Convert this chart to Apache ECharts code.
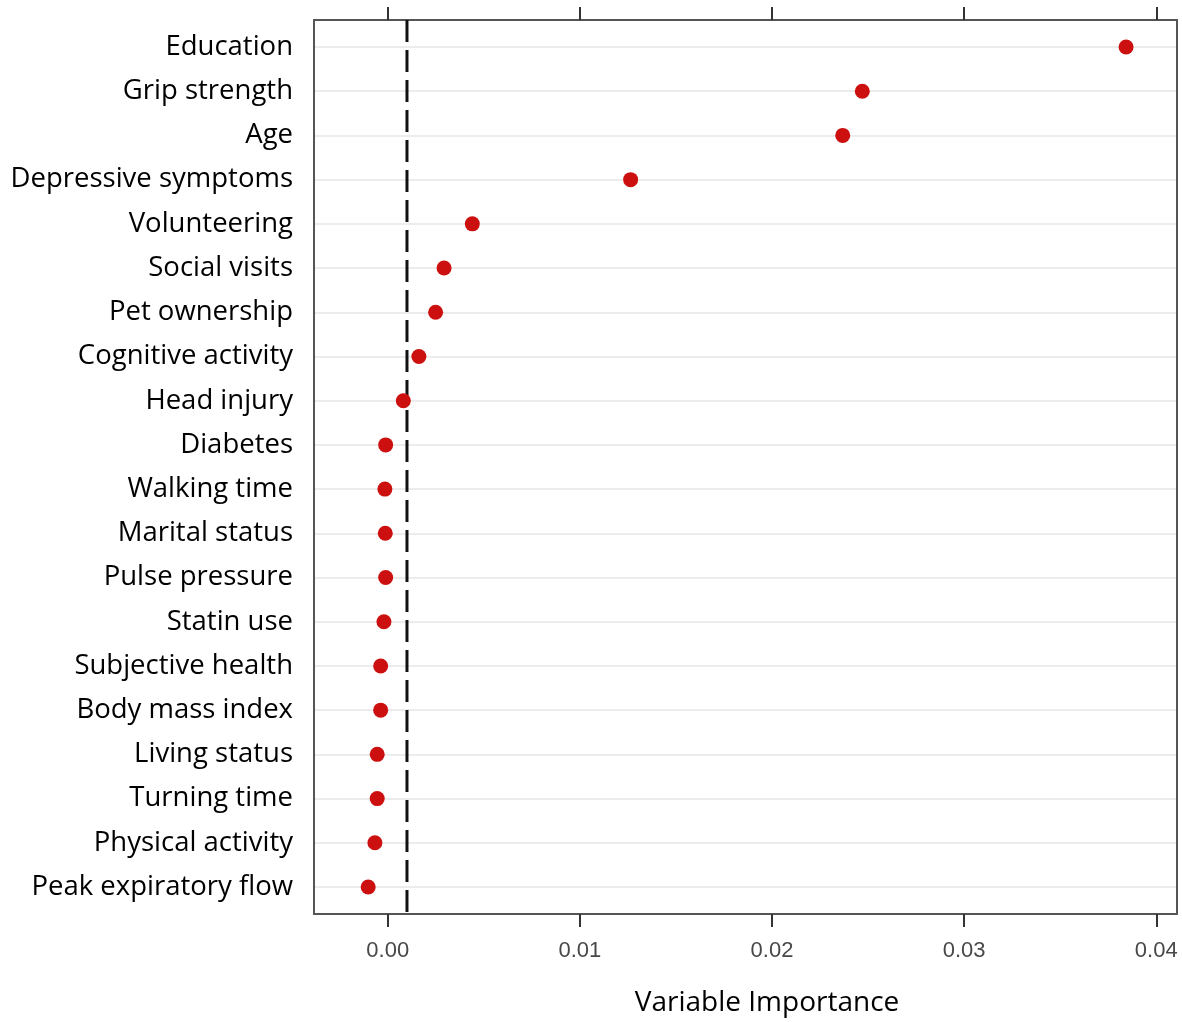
<!DOCTYPE html>
<html>
<head>
<meta charset="utf-8">
<title>Variable Importance</title>
<script src="https://cdn.jsdelivr.net/npm/echarts@6/dist/echarts.min.js"></script>
<style>
  html, body { margin: 0; padding: 0; background: #fff; }
  #chart { width: 1182px; height: 1022px; }
</style>
</head>
<body>
<div id="chart"></div>
<script>
// Predictors, ordered from most to least important
const variables = [
  'Education', 'Grip strength', 'Age', 'Depressive symptoms', 'Volunteering',
  'Social visits', 'Pet ownership', 'Cognitive activity', 'Head injury', 'Diabetes',
  'Walking time', 'Marital status', 'Pulse pressure', 'Statin use', 'Subjective health',
  'Body mass index', 'Living status', 'Turning time', 'Physical activity', 'Peak expiratory flow'
];

// Permutation importance for each predictor
const importance = [
  0.03843, 0.02470, 0.02368, 0.01264, 0.00440,
  0.00293, 0.00249, 0.00162, 0.00081, -0.00011,
  -0.00015, -0.00013, -0.00011, -0.00020, -0.00037,
  -0.00037, -0.00055, -0.00055, -0.00067, -0.00102
];

// Tick values on the importance axis
const xTicks = [0.00, 0.01, 0.02, 0.03, 0.04];

// Reference threshold drawn as a dashed vertical line
const threshold = 0.001;

const xMin = -0.00384;
const xMax = 0.04108;

const chart = echarts.init(document.getElementById('chart'), null, { renderer: 'canvas' });

const tickFmt = v => v.toFixed(2);
const frameLine = { show: true, onZero: false, lineStyle: { color: '#555', width: 2 } };

const option = {
  backgroundColor: '#ffffff',
  animation: false,
  grid: [
    // rows: one line per predictor
    { left: 314, right: 5, top: 47, bottom: 135 },
    // frame around the panel
    { left: 314, right: 5, top: 20, bottom: 108 }
  ],
  xAxis: [
    { gridIndex: 0, type: 'value', min: xMin, max: xMax, show: false },
    {
      gridIndex: 1, type: 'value', min: xMin, max: xMax, position: 'bottom',
      axisLine: frameLine,
      axisTick: { show: true, inside: false, length: 13, customValues: xTicks,
                  lineStyle: { color: '#333', width: 2 } },
      axisLabel: { show: true, customValues: xTicks, formatter: tickFmt, margin: 26,
                   color: '#484848', fontSize: 22, fontFamily: 'Liberation Sans, Arial, sans-serif' },
      splitLine: { show: false }
    },
    {
      gridIndex: 1, type: 'value', min: xMin, max: xMax, position: 'top',
      axisLine: frameLine,
      axisTick: { show: true, inside: false, length: 13, customValues: xTicks,
                  lineStyle: { color: '#333', width: 2 } },
      axisLabel: { show: false },
      splitLine: { show: false }
    }
  ],
  yAxis: [
    {
      gridIndex: 0, type: 'category', data: variables, inverse: true, boundaryGap: false,
      axisLine: { show: false },
      axisTick: { show: false },
      axisLabel: { color: '#000', fontSize: 27.5, margin: 21,
                   fontFamily: 'Open Sans, sans-serif' },
      splitLine: { show: true, lineStyle: { color: '#e6e6e6', width: 1.5 } }
    },
    {
      gridIndex: 1, type: 'value', min: 0, max: 1, position: 'left',
      axisLine: frameLine,
      axisTick: { show: false }, axisLabel: { show: false }, splitLine: { show: false }
    },
    {
      gridIndex: 1, type: 'value', min: 0, max: 1, position: 'right',
      axisLine: frameLine,
      axisTick: { show: false }, axisLabel: { show: false }, splitLine: { show: false }
    }
  ],
  graphic: [
    {
      type: 'text', x: 767, y: 1003,
      style: {
        text: 'Variable Importance', fill: '#000', fontSize: 28,
        fontFamily: 'Open Sans, sans-serif', textAlign: 'center', textVerticalAlign: 'middle'
      }
    }
  ],
  series: [
    {
      // dashed threshold spanning the full panel height
      type: 'line', xAxisIndex: 1, yAxisIndex: 1, silent: true,
      symbol: 'none',
      lineStyle: { color: '#111', width: 3, type: [22, 8] },
      data: [[threshold, 1], [threshold, 0]],
      z: 3
    },
    {
      type: 'scatter', xAxisIndex: 0, yAxisIndex: 0,
      symbol: 'circle', symbolSize: 15,
      itemStyle: { color: '#cc0f0f', opacity: 1 },
      data: importance.map((v, i) => [v, variables[i]]),
      z: 5
    }
  ]
};

chart.setOption(option);
</script>
</body>
</html>
